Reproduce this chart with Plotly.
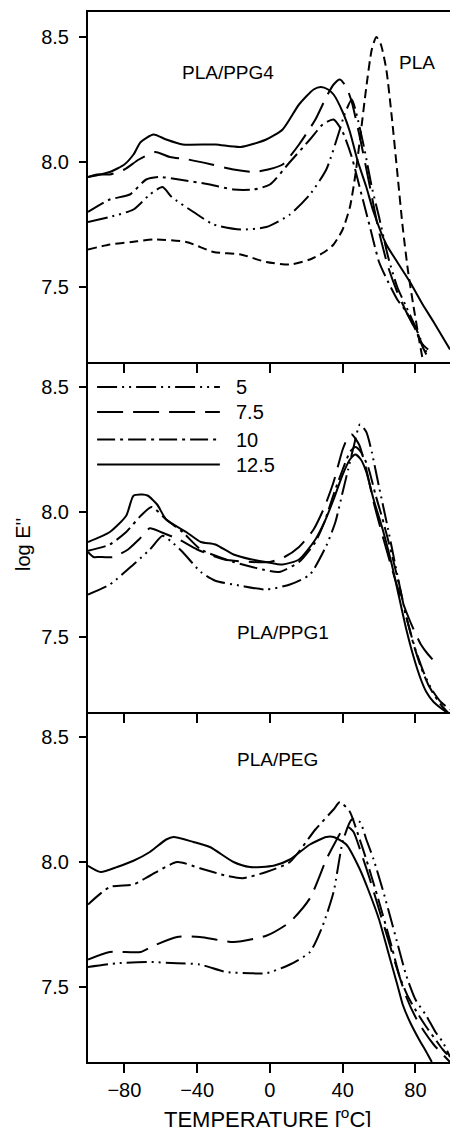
import plotly.graph_objects as go
from plotly.subplots import make_subplots

# ---------------- DATA ----------------
# Panel 1: PLA/PPG4 (plus neat PLA)
PPG4_T_5 = [-100, -88, -75, -66, -59, -54, -42, -31, -16, -2, 11, 22, 31, 38, 41, 45, 48, 52, 56, 60, 65, 70, 75, 80, 84, 86]
PPG4_E_5 = [7.76, 7.78, 7.81, 7.87, 7.90, 7.86, 7.80, 7.75, 7.73, 7.74, 7.79, 7.87, 7.97, 8.12, 8.19, 8.25, 8.18, 8.05, 7.90, 7.78, 7.62, 7.50, 7.42, 7.34, 7.27, 7.24]
PPG4_T_75 = [-100, -95, -88, -80, -72, -63, -55, -45, -32, -20, -9, -1, 7, 16, 25, 31, 35, 38.5, 42, 45, 50, 55, 60, 65, 70, 75, 80, 84, 87]
PPG4_E_75 = [7.94, 7.95, 7.95, 7.97, 8.01, 8.04, 8.02, 8.01, 7.99, 7.97, 7.96, 7.97, 7.99, 8.07, 8.17, 8.26, 8.31, 8.33, 8.30, 8.24, 8.08, 7.90, 7.72, 7.58, 7.48, 7.40, 7.33, 7.27, 7.25]
PPG4_T_10 = [-100, -88, -77, -68, -61, -50, -33, -20, -9, 0, 11, 22, 29, 35, 40, 45, 50, 55, 60, 65, 70, 75, 80, 84, 86]
PPG4_E_10 = [7.80, 7.85, 7.87, 7.93, 7.94, 7.93, 7.91, 7.89, 7.89, 7.91, 8.00, 8.09, 8.15, 8.17, 8.12, 8.02, 7.88, 7.74, 7.60, 7.52, 7.45, 7.40, 7.33, 7.26, 7.23]
PPG4_T_125 = [-100, -88, -80, -75, -71, -64, -57, -48, -30, -16, -2, 7, 16, 24, 28, 32, 35, 40, 44, 48, 53, 57, 64, 70, 77, 84, 90, 99]
PPG4_E_125 = [7.94, 7.96, 7.99, 8.03, 8.08, 8.11, 8.09, 8.07, 8.07, 8.06, 8.09, 8.13, 8.23, 8.29, 8.30, 8.29, 8.27, 8.20, 8.12, 8.01, 7.90, 7.80, 7.67, 7.60, 7.52, 7.43, 7.36, 7.25]
PLA_T = [-100, -88, -76, -64, -46, -31, -16, -2, 11, 22, 30, 35, 40, 44, 47, 50, 53, 56, 58.5, 61, 64, 67, 70, 73, 76, 79, 82, 84]
PLA_E = [7.65, 7.67, 7.68, 7.69, 7.68, 7.64, 7.63, 7.60, 7.59, 7.61, 7.64, 7.67, 7.73, 7.82, 7.95, 8.12, 8.30, 8.45, 8.50, 8.47, 8.37, 8.18, 7.96, 7.74, 7.56, 7.42, 7.29, 7.21]

# Panel 2: PLA/PPG1
PPG1_T_5 = [-100, -88, -75, -66, -59, -54, -48, -38, -30, -16, -2, 11, 22, 31, 36, 40, 43, 46, 49.5, 53, 56, 60, 65, 70, 75, 80, 85, 89, 94, 99]
PPG1_E_5 = [7.67, 7.71, 7.79, 7.85, 7.905, 7.88, 7.84, 7.76, 7.725, 7.705, 7.69, 7.71, 7.75, 7.865, 7.96, 8.08, 8.17, 8.26, 8.35, 8.32, 8.24, 8.10, 7.93, 7.75, 7.58, 7.45, 7.35, 7.29, 7.24, 7.21]
PPG1_T_75 = [-100, -97, -94, -86, -78, -72, -66, -60, -50, -40, -25, -10, 0, 8, 16, 24, 30, 35, 40, 43, 45, 49, 53, 57, 61, 66, 71, 75, 79, 83, 87, 92]
PPG1_E_75 = [7.84, 7.82, 7.82, 7.82, 7.85, 7.89, 7.935, 7.92, 7.89, 7.85, 7.81, 7.80, 7.80, 7.82, 7.86, 7.93, 8.02, 8.12, 8.25, 8.30, 8.31, 8.27, 8.17, 8.04, 7.93, 7.80, 7.68, 7.60, 7.53, 7.47, 7.43, 7.39]
PPG1_T_10 = [-100, -88, -79, -71, -65, -57, -48, -38, -20, -4, 5, 16, 25, 30, 35, 40, 44, 47, 50, 54, 58, 62, 67, 71, 75, 79, 83, 87, 91, 95, 99]
PPG1_E_10 = [7.845, 7.87, 7.92, 7.985, 8.02, 7.97, 7.92, 7.85, 7.80, 7.77, 7.76, 7.80, 7.88, 7.96, 8.07, 8.17, 8.24, 8.26, 8.24, 8.18, 8.07, 7.97, 7.83, 7.71, 7.58, 7.47, 7.38, 7.31, 7.26, 7.22, 7.19]
PPG1_T_125 = [-100, -88, -79, -75, -70, -67, -62, -57, -46, -38, -30, -20, -10, -2, 7, 16, 25, 30, 35, 40, 44, 47, 50, 53, 57, 62, 67, 71, 75, 79, 83, 86, 90, 95, 99]
PPG1_E_125 = [7.88, 7.92, 7.985, 8.065, 8.07, 8.065, 8.03, 7.97, 7.92, 7.88, 7.87, 7.83, 7.81, 7.80, 7.79, 7.81, 7.89, 7.96, 8.05, 8.15, 8.21, 8.23, 8.21, 8.16, 8.05, 7.93, 7.79, 7.66, 7.53, 7.42, 7.33, 7.28, 7.24, 7.21, 7.19]

# Panel 3: PLA/PEG
PEG_T_5 = [-100, -84, -66, -51, -38.5, -24, -11, -2, 11, 22, 29, 35, 40, 45, 49.5, 53, 57, 62, 66, 71, 75, 80, 86, 91, 95, 99]
PEG_E_5 = [7.58, 7.595, 7.60, 7.595, 7.59, 7.56, 7.555, 7.555, 7.59, 7.64, 7.745, 7.88, 8.08, 8.17, 8.16, 8.09, 8.01, 7.89, 7.785, 7.65, 7.545, 7.45, 7.385, 7.32, 7.28, 7.22]
PEG_T_75 = [-100, -88, -71, -64, -51, -38.5, -20, -2, 11, 22, 31, 36, 40, 43, 46, 50, 55, 60, 65, 70, 75, 80, 85, 90, 95, 99]
PEG_E_75 = [7.61, 7.64, 7.64, 7.665, 7.70, 7.70, 7.68, 7.705, 7.76, 7.855, 8.01, 8.08, 8.13, 8.14, 8.12, 8.04, 7.93, 7.81, 7.69, 7.57, 7.46, 7.38, 7.32, 7.27, 7.23, 7.20]
PEG_T_10 = [-100, -88, -75, -66, -51, -38.5, -24, -15, -2, 11, 25, 35, 38.5, 44, 48, 53, 58, 62, 67, 71.4, 76, 82, 86, 91, 95, 99]
PEG_E_10 = [7.83, 7.90, 7.91, 7.945, 8.00, 7.975, 7.945, 7.935, 7.96, 8.00, 8.13, 8.21, 8.24, 8.20, 8.12, 8.01, 7.89, 7.79, 7.66, 7.54, 7.46, 7.385, 7.34, 7.29, 7.25, 7.22]
PEG_T_125 = [-100, -93, -84, -75, -66, -57, -53, -42, -33, -20, -11, 2, 11, 22, 31, 35, 42, 49.5, 54, 60, 65, 70, 73, 77, 82, 86, 89]
PEG_E_125 = [7.985, 7.96, 7.98, 8.005, 8.04, 8.09, 8.10, 8.08, 8.06, 8.00, 7.98, 7.985, 8.01, 8.07, 8.10, 8.10, 8.07, 7.97, 7.89, 7.77, 7.64, 7.51, 7.43, 7.36, 7.29, 7.24, 7.20]

LEGEND_LABELS = ["5", "7.5", "10", "12.5"]
PANEL_LABELS = ["PLA/PPG4", "PLA/PPG1", "PLA/PEG"]
X_TICKS = [-80, -40, 0, 40, 80]
Y_TICKS = [7.5, 8.0, 8.5]
Y_TICKTEXT = ["7.5", "8.0", "8.5"]

# ---------------- STYLE ----------------
FONT = "Arial, 'Liberation Sans', Helvetica, sans-serif"
DASH = {
    "5": "20px,5px,2px,5px,2px,5px",
    "7.5": "26px,10px",
    "10": "18px,5px,3px,5px",
    "12.5": "solid",
}
PLA_DASH = "9px,5px"
LW = 2

fig = make_subplots(rows=3, cols=1, shared_xaxes=True, vertical_spacing=0)

panels = [
    [(PPG4_T_5, PPG4_E_5), (PPG4_T_75, PPG4_E_75), (PPG4_T_10, PPG4_E_10), (PPG4_T_125, PPG4_E_125)],
    [(PPG1_T_5, PPG1_E_5), (PPG1_T_75, PPG1_E_75), (PPG1_T_10, PPG1_E_10), (PPG1_T_125, PPG1_E_125)],
    [(PEG_T_5, PEG_E_5), (PEG_T_75, PEG_E_75), (PEG_T_10, PEG_E_10), (PEG_T_125, PEG_E_125)],
]

for r, series in enumerate(panels, start=1):
    for lab, (t, e) in zip(LEGEND_LABELS, series):
        fig.add_trace(go.Scatter(x=t, y=e, mode="lines", name=lab, showlegend=False,
                                 line=dict(color="black", width=LW, dash=DASH[lab], shape="spline", smoothing=0.6)),
                      row=r, col=1)
fig.add_trace(go.Scatter(x=PLA_T, y=PLA_E, mode="lines", name="PLA", showlegend=False,
                         line=dict(color="black", width=LW, dash=PLA_DASH, shape="spline", smoothing=0.6)),
              row=1, col=1)

fig.update_xaxes(range=[-100, 99], showline=True, linewidth=2, linecolor="black", mirror=False,
                 ticks="outside", ticklen=9, tickwidth=2, tickcolor="black", automargin=False,
                 tickvals=X_TICKS, showgrid=False, zeroline=False,
                 tickfont=dict(family=FONT, size=20, color="black"))
fig.update_xaxes(mirror=True, row=1, col=1)
fig.update_yaxes(range=[7.2, 8.6], showline=True, linewidth=2, linecolor="black", mirror=True,
                 ticks="outside", ticklen=7, tickwidth=2, tickcolor="black", automargin=False,
                 tickvals=Y_TICKS, ticktext=Y_TICKTEXT, showgrid=False, zeroline=False,
                 ticklabelstandoff=6,
                 tickfont=dict(family=FONT, size=20, color="black"))

# Legend (drawn in middle panel)
LEG_X0, LEG_X1, LEG_TX = -95, -27.5, -19.5
LEG_Y = [8.5, 8.40, 8.29, 8.19]
for lab, ly in zip(LEGEND_LABELS, LEG_Y):
    fig.add_shape(type="line", xref="x2", yref="y2", x0=LEG_X0, x1=LEG_X1, y0=ly, y1=ly,
                  line=dict(color="black", width=LW, dash=DASH[lab]))
    fig.add_annotation(xref="x2", yref="y2", x=LEG_TX, y=ly, text=lab, showarrow=False,
                       xanchor="left", yanchor="middle", font=dict(family=FONT, size=20, color="black"))

# Panel labels
lab_pos = [("x", "y", -23, 8.36, PANEL_LABELS[0]), ("x", "y", 80.8, 8.40, "PLA"),
           ("x2", "y2", 7, 7.52, PANEL_LABELS[1]), ("x3", "y3", 4, 8.41, PANEL_LABELS[2])]
for xr, yr, xx, yy, txt in lab_pos:
    fig.add_annotation(xref=xr, yref=yr, x=xx, y=yy, text=txt, showarrow=False,
                       xanchor="center", yanchor="middle", font=dict(family=FONT, size=19, color="black"))

# Axis titles
fig.add_annotation(xref="paper", yref="paper", x=-0.1796, y=0.4933, text="log E''", textangle=-90,
                   showarrow=False, xanchor="center", yanchor="middle",
                   font=dict(family=FONT, size=20, color="black"))
fig.add_annotation(xref="paper", yref="paper", x=0.497, y=-0.053, text="TEMPERATURE [<sup>o</sup>C]",
                   showarrow=False, xanchor="center", yanchor="middle",
                   font=dict(family=FONT, size=22, color="black"))

fig.update_layout(template="none", width=450, height=1127, margin=dict(l=88, r=0, t=12, b=65),
                  paper_bgcolor="white", plot_bgcolor="white", showlegend=False)

fig.write_html("out.html", config={"displayModeBar": False},
               post_script="document.body.style.margin='0px';document.body.style.overflow='hidden';"
                           "document.documentElement.style.overflow='hidden';")
